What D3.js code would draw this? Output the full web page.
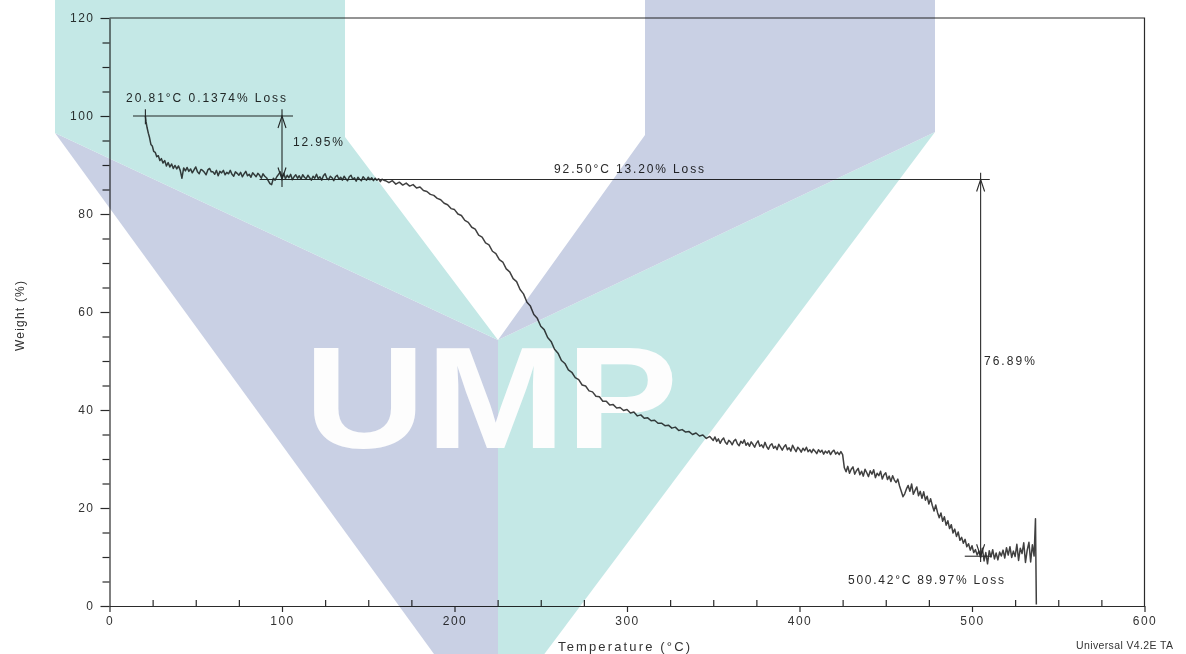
<!DOCTYPE html>
<html>
<head>
<meta charset="utf-8">
<script src="https://cdn.jsdelivr.net/npm/d3@7"></script>
<style>
  html, body { margin: 0; padding: 0; background: #fff; }
  svg { display: block; font-family: "Liberation Sans", Arial, sans-serif; }
</style>
</head>
<body>
<svg id="chart" width="1186" height="654"></svg>
<script>
// TGA curve: temperature (°C) and weight (%)
const temperature = [
  20.81, 21.2, 21.8, 22.5, 23.2, 24, 24.8, 25.6, 26.5, 27.4,
  28.3, 29.2, 30.1, 31, 32, 33, 34, 35, 36, 37,
  38, 39, 40, 41, 42, 43,
  44, 45, 46, 47, 48, 49, 50, 51, 52, 53,
  54, 55, 56, 57, 58, 59, 60, 61, 62, 63,
  64, 65, 66, 67, 68, 69, 70, 71, 72, 73,
  74, 75, 76, 77, 78, 79, 80, 81, 82, 83,
  84, 85, 86, 87, 88, 89, 90, 91, 92, 93,
  94, 95, 96, 97, 98, 99, 100, 101, 102, 103,
  104, 105, 106, 107, 108, 109, 110, 111, 112, 113,
  114, 115, 116, 117, 118, 119, 120, 121, 122, 123,
  124, 125, 126, 127, 128, 129, 130, 131, 132, 133,
  134, 135, 136, 137, 138, 139, 140, 141, 142, 143,
  144, 145, 146, 147, 148, 149, 150, 151, 152, 153,
  154, 155, 156, 157, 158, 159, 160,
  162, 164, 166, 168, 170, 172, 174, 176, 178, 180,
  182, 184, 186, 188, 190, 192, 194, 196, 198, 200,
  202, 204, 206, 208, 210, 212, 214, 216, 218, 220,
  222, 224, 226, 228, 230, 232, 234, 236, 238, 240,
  242, 244, 246, 248, 250, 252, 254, 256, 258, 260,
  262, 264, 266, 268, 270, 272, 274, 276, 278, 280,
  282, 284, 286, 288, 290, 292, 294, 296, 298, 300,
  302, 304, 306, 308, 310, 312, 314, 316, 318, 320,
  322, 324, 326, 328, 330, 332, 334, 336, 338, 340,
  342, 344, 346, 348,
  350, 351, 352, 353, 354, 355, 356, 357, 358, 359,
  360, 361, 362, 363, 364, 365, 366, 367, 368, 369,
  370, 371, 372, 373, 374, 375, 376, 377, 378, 379,
  380, 381, 382, 383, 384, 385, 386, 387, 388, 389,
  390, 391, 392, 393, 394, 395, 396, 397, 398, 399,
  400, 401, 402, 403, 404, 405, 406, 407, 408, 409,
  410, 411, 412, 413, 414, 415, 416, 417, 418, 419,
  420, 421, 422, 423, 424, 425,
  426, 427, 428, 429, 430, 431, 432, 433, 434, 435,
  436, 437, 438, 439, 440, 441, 442, 443, 444, 445,
  446, 447, 448, 449, 450, 451, 452, 453, 454, 455,
  456, 457, 458, 459, 460, 461, 462, 463, 464, 465,
  466, 467, 468, 469, 470, 471, 472, 473, 474, 475,
  476, 477, 478, 479, 480, 481, 482, 483, 484, 485,
  486, 487, 488, 489, 490, 491, 492, 493, 494, 495,
  496, 497, 498, 499, 500, 501, 502, 503, 504, 505,
  506, 507, 508, 509, 510, 511, 512, 513, 514, 515,
  516, 517, 518, 519, 520, 521, 522, 523, 524, 525,
  526, 527, 528, 529, 530, 531, 532, 533, 534, 535,
  536, 536.8, 537.3
];
const weight = [
  100.0, 98.8, 97.6, 96.5, 95.6, 94.2, 93.9, 92.8, 92.6, 91.7,
  91.9, 90.9, 91.3, 90.4, 90.9, 89.8, 90.5, 89.6, 90.2, 89.3,
  89.9, 89.2, 89.8, 88.9, 87.3, 89.4,
  88.8, 89.5, 88.7, 89.2, 88.4, 89.0, 89.6, 88.6, 88.2, 89.1,
  88.9, 88.5, 88.0, 89.0, 89.3, 88.6, 88.6, 88.1, 88.9, 87.8,
  88.7, 88.4, 88.9, 88.0, 88.5, 88.2, 88.9, 88.1, 87.7, 88.6,
  88.3, 87.9, 88.5, 87.6, 88.2, 88.7, 87.8, 88.1, 87.5, 88.4,
  88.0, 87.6, 88.3, 87.9, 87.3, 88.2, 87.7, 87.4, 86.8, 86.2,
  86.0, 87.3, 86.9, 87.6, 88.1, 88.6, 87.5, 88.3, 87.2, 87.9,
  87.4, 88.1, 87.0, 87.6, 88.0, 87.3, 87.8, 87.1, 88.0, 87.5,
  87.2, 87.9, 87.4, 86.9, 87.7, 87.3, 88.1, 87.2, 87.6, 86.9,
  87.8, 88.2, 87.3, 87.0, 87.7, 87.4, 86.8, 87.6, 87.9, 87.1,
  87.5, 86.9, 87.7, 87.2, 86.8, 87.6, 87.9, 87.1, 87.4, 86.7,
  87.5, 87.1, 86.8, 87.6, 87.2, 86.9, 87.5, 87.0, 87.4, 86.8,
  87.3, 86.9, 87.2, 86.6, 87.1, 86.9, 86.8,
  86.4, 86.8, 86.1, 86.5, 85.9, 86.3, 85.7, 86.0, 85.3, 85.5,
  84.8, 84.6, 84.0, 83.8, 83.2, 82.9, 82.2, 81.9, 81.1, 80.9,
  80.0, 79.7, 78.7, 78.3, 77.3, 76.9, 75.7, 75.3, 74.1, 73.7,
  72.4, 71.9, 70.7, 70.2, 68.8, 68.2, 66.8, 66.2, 64.6, 63.7,
  62.0, 61.2, 59.5, 58.7, 57.1, 56.4, 54.8, 54.0, 52.4, 51.6,
  50.1, 49.5, 48.2, 47.7, 46.6, 46.2, 45.1, 44.9, 43.9, 43.7,
  42.8, 42.7, 41.8, 41.8, 41.0, 41.1, 40.4, 40.5, 39.9, 40.1,
  39.4, 39.6, 38.8, 39.0, 38.3, 38.4, 37.8, 37.9, 37.3, 37.3,
  36.8, 36.9, 36.3, 36.5, 35.8, 36.0, 35.5, 35.6, 35.0, 35.3,
  34.7, 34.9, 34.2, 34.6,
  33.8, 34.5, 33.6, 34.1, 33.2, 33.9, 34.3, 33.4, 33.0, 33.8,
  33.5, 32.9, 33.7, 34.0, 33.1, 32.7, 33.6, 33.2, 33.9, 32.8,
  33.3, 32.6, 33.5, 33.0, 32.4, 33.2, 33.7, 32.6, 32.9, 32.3,
  33.4, 32.5, 32.0, 32.8, 33.1, 32.2, 32.6, 31.9, 33.0, 32.4,
  31.8, 32.5, 32.9, 31.9, 32.3, 31.6, 32.8, 32.1, 31.5, 32.4,
  32.0, 31.4, 32.2, 31.7, 32.4, 31.5, 31.9, 31.3, 32.0, 31.6,
  31.1, 31.9, 31.4, 31.8, 31.0, 31.6, 31.2, 31.7, 30.9, 31.5,
  31.8, 31.0, 31.4, 30.9, 31.5, 30.9,
  28.2, 27.4, 28.5, 27.1, 27.9, 28.4, 26.9, 27.6, 28.1, 26.8,
  27.5, 26.5, 27.9, 27.2, 26.4, 27.6, 26.9, 27.8, 26.2, 27.1,
  26.6, 27.5, 25.9, 26.8, 27.2, 25.8, 26.5, 25.4, 26.6, 25.7,
  25.2, 25.9, 24.5, 23.4, 22.3, 22.9, 23.9, 24.6, 23.4, 24.9,
  22.8, 23.6, 24.3, 22.5, 23.4, 22.0, 23.3, 21.6, 22.4, 20.8,
  21.9, 20.5, 19.4, 20.6, 19.1, 18.0, 19.0, 17.3, 18.2, 16.5,
  17.4, 15.8, 16.6, 14.9, 15.7, 14.2, 15.1, 13.4, 14.0, 12.8,
  13.6, 12.1, 12.7, 11.4, 12.3, 10.9, 11.5, 10.4, 11.2, 9.9,
  11.8, 9.2, 10.9, 8.6, 11.3, 10.0, 11.5, 9.6, 10.8, 9.4,
  11.0, 10.2, 11.4, 9.8, 11.9, 10.4, 12.1, 9.9, 11.2, 10.1,
  12.6, 9.3, 11.8, 10.7, 12.9, 8.9, 11.4, 13.0, 9.0, 12.5,
  10.2, 17.8, 0.3
];

const xTicks = [0, 100, 200, 300, 400, 500, 600];
const xMinorTicks = [25, 50, 75, 125, 150, 175, 225, 250, 275, 325, 350, 375, 425, 450, 475, 525, 550, 575];
const yTicks = [0, 20, 40, 60, 80, 100, 120];
const yMinorTicks = [5, 10, 15, 25, 30, 35, 45, 50, 55, 65, 70, 75, 85, 90, 95, 105, 110, 115];

// step analysis reported on the plot
const stepTemps = [20.81, 92.50, 500.42];
const stepLossText = ["0.1374% Loss", "13.20% Loss", "89.97% Loss"];
const stepDeltas = [12.95, 76.89];

const svg = d3.select("#chart");
const W = 1186, H = 654;
const ink = "#2b2b2b";
const x = d3.scaleLinear().domain([0, 600]).range([109.5, 1144.5]);
const y = d3.scaleLinear().domain([0, 120]).range([606, 18]);

svg.append("rect").attr("width", W).attr("height", H).attr("fill", "#fff");

// axes
const styleAxis = g => {
  g.attr("font-family", "'Liberation Sans', Arial, sans-serif").attr("font-size", 12);
  g.selectAll("path, line").attr("stroke", ink).attr("stroke-width", 1.2);
  g.selectAll("text").attr("fill", "#333").style("letter-spacing", "1.5px");
};

svg.append("g")
  .attr("transform", `translate(${x(0)},0)`)
  .call(d3.axisLeft(y).tickValues(yTicks).tickSize(9).tickSizeOuter(0).tickPadding(6))
  .call(styleAxis);
svg.append("g")
  .attr("transform", `translate(${x(0)},0)`)
  .call(d3.axisLeft(y).tickValues(yMinorTicks).tickSize(7).tickFormat(""))
  .call(g => g.select(".domain").remove())
  .call(styleAxis);
svg.append("g")
  .attr("transform", `translate(0,${y(0)})`)
  .call(d3.axisBottom(x).tickValues(xTicks).tickSize(6).tickSizeOuter(0).tickPadding(4))
  .call(styleAxis);
svg.append("g")
  .attr("transform", `translate(0,${y(0)})`)
  .call(d3.axisBottom(x).tickValues(xMinorTicks).tickSize(-6).tickFormat(""))
  .call(g => g.select(".domain").remove())
  .call(styleAxis);

// frame top / right
svg.append("path")
  .attr("d", `M${x(0)},${y(120)}H${x(600)}V${y(0)}`)
  .attr("fill", "none").attr("stroke", ink).attr("stroke-width", 1.2);

// axis titles
svg.append("text")
  .attr("transform", `translate(24,316) rotate(-90)`)
  .attr("text-anchor", "middle")
  .attr("font-size", 12).attr("fill", "#333")
  .attr("textLength", 70).attr("lengthAdjust", "spacing")
  .text("Weight (%)");
svg.append("text")
  .attr("x", 558).attr("y", 651)
  .attr("font-size", 13).attr("fill", "#333")
  .attr("textLength", 132).attr("lengthAdjust", "spacing")
  .text("Temperature (°C)");
svg.append("text")
  .attr("x", 1076).attr("y", 649)
  .attr("font-size", 10.5).attr("fill", "#333")
  .attr("textLength", 97).attr("lengthAdjust", "spacing")
  .text("Universal V4.2E TA");

// curve
const line = d3.line().x(d => x(d[0])).y(d => y(d[1]));
svg.append("path")
  .datum(d3.zip(temperature, weight))
  .attr("d", line)
  .attr("fill", "none")
  .attr("stroke", "#404040")
  .attr("stroke-width", 1.5)
  .attr("stroke-linejoin", "round");

// step analysis markers
const level0 = 100;
const level1 = level0 - stepDeltas[0];
const level2 = level1 - stepDeltas[1];
const ann = svg.append("g").attr("stroke", ink).attr("stroke-width", 1.1).attr("fill", "none");
const seg = (t1, w1, t2, w2) =>
  ann.append("line").attr("x1", x(t1)).attr("y1", y(w1)).attr("x2", x(t2)).attr("y2", y(w2));
const chevron = (t, w, dir) => {
  const cx = x(t), cy = y(w);
  ann.append("path").attr("d", `M${cx - 4},${cy + dir * 12}L${cx},${cy}L${cx + 4},${cy + dir * 12}`);
};

seg(13.6, level0, 106.4, level0);
seg(stepTemps[0], 101.4, stepTemps[0], 98.3);
seg(100, 101.4, 100, 85.5);
chevron(100, level0, 1);
chevron(100, level1, -1);
seg(87, level1, 510.3, level1);
seg(505, 88.4, 505, 9.0);
chevron(505, level1, 1);
chevron(505, level2, -1);
seg(495.8, level2, 511.4, level2);

const labels = [
  { t: 9.6, w: 102.86, len: 160, text: `${stepTemps[0].toFixed(2)}°C ${stepLossText[0]}` },
  { t: 106.4, w: 93.88, len: 50, text: `${stepDeltas[0].toFixed(2)}%` },
  { t: 257.7, w: 88.37, len: 150, text: `${stepTemps[1].toFixed(2)}°C ${stepLossText[1]}` },
  { t: 506.9, w: 49.18, len: 51, text: `${stepDeltas[1].toFixed(2)}%` },
  { t: 428.1, w: 4.49, len: 156, text: `${stepTemps[2].toFixed(2)}°C ${stepLossText[2]}` }
];
svg.append("g").selectAll("text")
  .data(labels)
  .join("text")
  .attr("x", d => x(d.t))
  .attr("y", d => y(d.w))
  .attr("font-size", 12)
  .attr("fill", "#2a2a2a")
  .attr("textLength", d => d.len)
  .attr("lengthAdjust", "spacing")
  .text(d => d.text);

// UMP watermark over the scan (multiplied)
const wm = svg.append("g").style("mix-blend-mode", "multiply");
const teal = "#c4e8e6", lav = "#c9d0e4";
const shapes = [
  { fill: lav, pts: [[55, 133], [498, 340], [498, 742]] },
  { fill: teal, pts: [[935, 132], [498, 340], [498, 716]] },
  { fill: teal, pts: [[55, 0], [345, 0], [345, 137], [498, 340], [55, 133]] },
  { fill: lav, pts: [[645, 0], [935, 0], [935, 132], [498, 340], [645, 135]] }
];
wm.selectAll("polygon")
  .data(shapes)
  .join("polygon")
  .attr("points", d => d.pts.map(p => p.join(",")).join(" "))
  .attr("fill", d => d.fill);
wm.append("text")
  .attr("x", 304).attr("y", 448)
  .attr("font-size", 144)
  .attr("font-weight", "bold")
  .attr("fill", "#fdfdfd")
  .attr("textLength", 374)
  .attr("lengthAdjust", "spacingAndGlyphs")
  .text("UMP");
</script>
</body>
</html>
